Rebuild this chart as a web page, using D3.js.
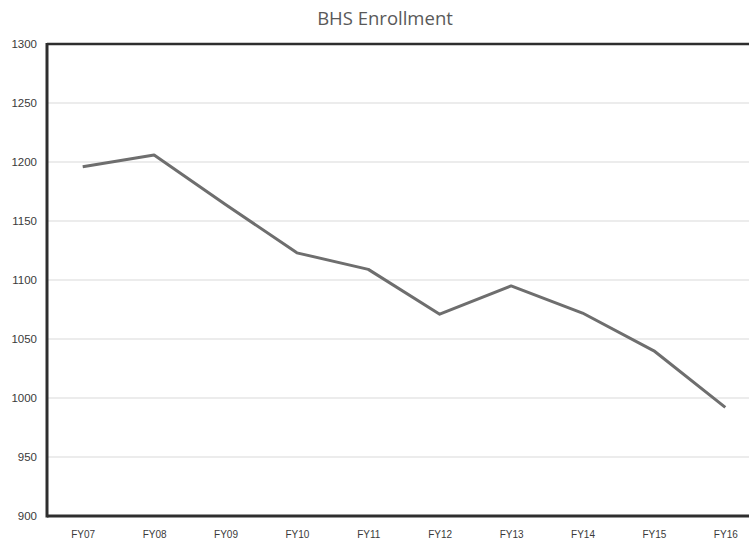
<!DOCTYPE html>
<html>
<head>
<meta charset="utf-8">
<script src="https://cdn.jsdelivr.net/npm/d3@7"></script>
<style>
  body { margin: 0; background: #fff; overflow: hidden; }
</style>
</head>
<body>
<script>
const years = ["FY07", "FY08", "FY09", "FY10", "FY11", "FY12", "FY13", "FY14", "FY15", "FY16"];
const enrollment = [1196, 1206, 1164, 1123, 1109, 1071, 1095, 1072, 1040, 992];
const yTicks = [900, 950, 1000, 1050, 1100, 1150, 1200, 1250, 1300];

const width = 749;
const height = 542;
const plotLeft = 47, plotTop = 44, plotRight = 761, plotBottom = 516;

const svg = d3.select("body")
  .append("svg")
  .attr("width", width)
  .attr("height", height);

const xScale = d3.scalePoint()
  .domain(years)
  .range([plotLeft, plotRight])
  .padding(0.5);

const yScale = d3.scaleLinear()
  .domain([900, 1300])
  .range([plotBottom, plotTop]);

// gridlines
svg.append("g")
  .selectAll("line")
  .data(yTicks)
  .enter()
  .append("line")
  .attr("x1", plotLeft)
  .attr("x2", plotRight)
  .attr("y1", (d) => yScale(d))
  .attr("y2", (d) => yScale(d))
  .attr("stroke", "#e6e6e6")
  .attr("stroke-width", 1.3);

// y axis labels
const yAxis = d3.axisLeft(yScale)
  .tickValues(yTicks)
  .tickFormat(d3.format("d"))
  .tickSize(0)
  .tickPadding(10);
svg.append("g")
  .attr("transform", `translate(${plotLeft}, 0)`)
  .call(yAxis)
  .call((g) => g.select(".domain").remove())
  .selectAll("text")
  .style("font-family", "Liberation Sans, Arial, sans-serif")
  .style("font-size", "11.5px")
  .style("fill", "#3a3a3a");

// x axis labels
const xAxis = d3.axisBottom(xScale).tickSize(0).tickPadding(15);
svg.append("g")
  .attr("transform", `translate(0, ${plotBottom})`)
  .call(xAxis)
  .call((g) => g.select(".domain").remove())
  .selectAll("text")
  .style("font-family", "Liberation Sans, Arial, sans-serif")
  .style("font-size", "10px")
  .style("fill", "#3a3a3a");

// plot border
svg.append("line")
  .attr("x1", plotLeft).attr("x2", plotRight)
  .attr("y1", plotTop).attr("y2", plotTop)
  .attr("stroke", "#2e2e2e").attr("stroke-width", 2.5);
svg.append("line")
  .attr("x1", plotLeft).attr("x2", plotRight)
  .attr("y1", plotBottom).attr("y2", plotBottom)
  .attr("stroke", "#2e2e2e").attr("stroke-width", 3);
svg.append("line")
  .attr("x1", plotLeft).attr("x2", plotLeft)
  .attr("y1", plotTop - 1).attr("y2", plotBottom + 1.5)
  .attr("stroke", "#2e2e2e").attr("stroke-width", 3);

// the line
const line = d3.line()
  .x((d, i) => xScale(years[i]))
  .y((d) => yScale(d));

svg.append("path")
  .datum(enrollment)
  .attr("d", line)
  .attr("fill", "none")
  .attr("stroke", "#6e6e6e")
  .attr("stroke-width", 3)
  .attr("stroke-linejoin", "round");

// title
svg.append("text")
  .attr("x", 385)
  .attr("y", 25)
  .attr("text-anchor", "middle")
  .style("font-family", "Open Sans, sans-serif")
  .style("font-size", "18.5px")
  .style("fill", "#595959")
  .text("BHS Enrollment");
</script>
</body>
</html>
